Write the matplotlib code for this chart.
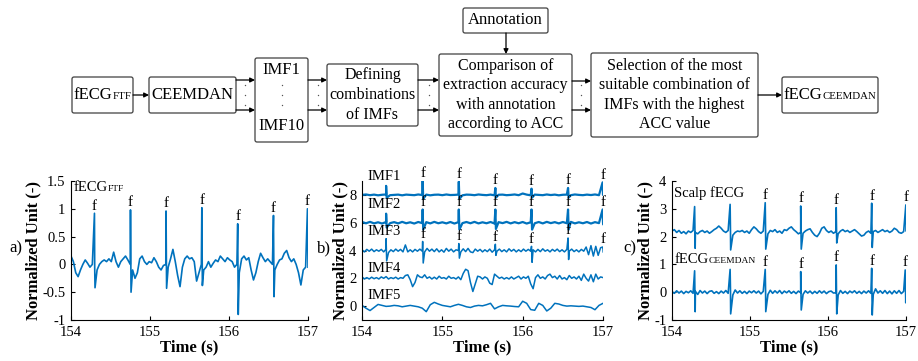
import numpy as np
import matplotlib
matplotlib.use("Agg")
import matplotlib.pyplot as plt
from matplotlib.patches import FancyBboxPatch
from matplotlib.offsetbox import TextArea, HPacker, AnnotationBbox

plt.rcParams["font.family"] = ["Liberation Serif", "DejaVu Serif"]
plt.rcParams["axes.unicode_minus"] = False

BLUE = "#0072BD"
T0 = 154.0

# ---------------- data ----------------
# spikes: (time, peak, trough, has "f" label)

# a) fECG FTF, samples every 0.03 s
ftf_step = 0.03
ftf_vals = [0.15, 0.05, -0.15, -0.22, -0.10, 0.00, 0.08, 0.02, -0.05, 0.00,
            -0.05, -0.10, 0.00, 0.05, 0.08, 0.05, 0.10, 0.05, 0.22, 0.05,
            -0.05, 0.05, 0.10, 0.15, 0.08, 0.00, -0.10, -0.25, -0.15, 0.10,
            0.15, 0.05, 0.00, 0.05, 0.03, 0.12, 0.05, -0.05, -0.10, -0.02,
            0.00, -0.05, 0.10, 0.27, 0.05, -0.20, -0.40, -0.05, 0.10, 0.15,
            0.10, 0.12, 0.05, -0.30, -0.15, 0.00, -0.10, -0.05, 0.05, -0.05,
            0.02, 0.08, 0.05, 0.15, 0.10, 0.05, 0.12, 0.08, 0.05, -0.05,
            0.00, -0.15, 0.10, 0.15, 0.08, 0.12, -0.10, -0.28, -0.15, 0.05,
            0.20, 0.12, 0.05, 0.10, 0.05, 0.00, -0.10, 0.00, 0.08, 0.10,
            0.20, 0.25, 0.12, 0.05, 0.10, 0.00, -0.15, -0.37, -0.10, -0.05,
            -0.05]
ftf_spikes = [(154.297, 0.92, -0.42, 1), (154.753, 0.98, -0.50, 1),
              (155.203, 0.96, -0.43, 1), (155.656, 1.02, -0.38, 1),
              (156.110, 0.73, -0.90, 1), (156.563, 0.88, -0.58, 1),
              (156.993, 1.00, -0.05, 1)]

# b) IMFs, values relative to their offsets
imf_names = ["IMF1", "IMF2", "IMF3", "IMF4", "IMF5"]
imf_offsets = [8, 6, 4, 2, 0]
imf_label_y = [9.35, 7.3, 5.37, 2.73, 0.79]
imf_steps = [0.05, 0.05, 0.03, 0.03, 0.05]
imf1_vals = [0.00, 0.03, -0.02, 0.02, -0.03, 0.01, 0.03, -0.02, 0.00, 0.02,
             -0.03, 0.02, 0.00, -0.02, 0.03, -0.01, 0.02, -0.03, 0.01, 0.02,
             -0.02, 0.03, -0.01, 0.00, 0.02, -0.03, 0.02, 0.01, -0.02, 0.03,
             0.00, -0.02, 0.02, -0.03, 0.01, 0.02, -0.02, 0.00, 0.03, -0.02,
             0.10, 0.02, -0.03, 0.02, 0.00, -0.02, 0.03, -0.01, 0.02, -0.03,
             0.01, 0.02, -0.02, 0.03, 0.00, -0.02, 0.02, -0.01, 0.03, -0.02,
             0.00]
imf2_vals = [0.05, -0.04, 0.06, -0.05, 0.03, -0.06, 0.05, -0.03, 0.04, -0.05,
             0.06, -0.04, 0.03, -0.06, 0.05, -0.03, 0.04, -0.05, 0.06, -0.04,
             0.03, -0.05, 0.05, -0.06, 0.04, -0.03, 0.05, -0.04, 0.06, -0.05,
             0.03, -0.04, 0.05, -0.06, 0.04, -0.03, 0.06, -0.05, 0.04, -0.04,
             0.05, -0.06, 0.03, -0.04, 0.05, -0.05, 0.06, -0.03, 0.04, -0.05,
             0.05, -0.04, 0.06, -0.05, 0.03, -0.04, 0.05, -0.06, 0.04, -0.03,
             0.02]
imf3_vals = [0.05, -0.10, 0.08, -0.05, 0.10, -0.08, 0.05, -0.05, 0.08, -0.10,
             0.10, -0.15, 0.05, -0.08, 0.10, -0.05, 0.08, -0.10, 0.40, -0.10,
             0.05, -0.10, 0.08, -0.05, 0.10, -0.05, -0.10, 0.15, -0.05, 0.10,
             -0.08, 0.12, -0.10, 0.05, -0.12, 0.15, -0.05, 0.10, -0.10, 0.05,
             0.00, -0.10, 0.12, -0.08, 0.15, -0.10, -0.15, 0.10, -0.05, 0.08,
             -0.10, 0.05, -0.08, 0.10, -0.12, 0.05, -0.05, 0.10, -0.08, 0.05,
             -0.10, 0.12, -0.05, 0.08, -0.10, 0.05, -0.08, 0.10, -0.05, 0.08,
             -0.05, 0.05, -0.10, 0.08, -0.08, 0.12, -0.05, 0.05, -0.10, 0.08,
             -0.05, 0.10, -0.08, 0.05, -0.10, 0.08, -0.05, 0.10, -0.08, 0.05,
             -0.10, 0.08, -0.05, 0.25, -0.30, 0.35, -0.40, 0.30, -0.35, 0.20,
             0.10]
imf4_vals = [0.10, -0.05, 0.05, -0.05, 0.08, -0.03, 0.05, -0.05, 0.10, 0.00,
             0.12, -0.05, 0.05, -0.02, 0.08, -0.05, 0.05, 0.00, 0.20, 0.25,
             -0.10, -0.60, -0.30, 0.25, 0.10, 0.05, 0.25, 0.00, 0.10, -0.05,
             0.08, -0.05, 0.15, 0.00, 0.05, -0.05, 0.15, 0.00, 0.05, -0.05,
             0.10, -0.10, 0.35, 0.65, 0.55, -0.30, -0.95, -0.40, 0.15, 0.10,
             -0.05, 0.10, 0.00, -0.35, -0.45, 0.30, 0.15, 0.00, 0.08, -0.05,
             0.05, -0.05, 0.10, -0.05, 0.05, 0.15, -0.05, 0.10, 0.00, 0.15,
             -0.40, -0.75, 0.05, 0.25, 0.00, 0.10, -0.05, 0.20, 0.30, 0.05,
             0.15, -0.05, 0.20, -0.05, 0.05, -0.10, 0.20, 0.00, 0.10, -0.05,
             0.15, -0.15, 0.30, 0.00, -0.20, 0.25, -0.25, 0.30, -0.05, 0.10,
             0.05]
imf5_vals = [0.05, -0.15, -0.32, -0.10, 0.12, 0.05, -0.02, 0.00, 0.05, 0.02,
             -0.05, 0.00, 0.05, 0.00, -0.05, -0.15, -0.40, 0.10, 0.27, 0.15,
             0.05, 0.00, -0.05, 0.05, 0.13, 0.05, -0.05, -0.10, 0.00, 0.05,
             0.02, 0.10, 0.20, -0.20, -0.05, 0.05, 0.02, 0.00, -0.03, -0.05,
             0.35, 0.20, -0.25, -0.30, 0.20, 0.05, -0.35, -0.15, 0.20, 0.15,
             0.05, 0.00, 0.02, 0.00, -0.02, 0.00, -0.05, -0.10, -0.26, 0.05,
             0.20]
imf1_spikes = [(154.300, 0.65, -0.20, 0), (154.755, 1.05, -0.30, 1),
               (155.205, 0.95, -0.30, 1), (155.660, 0.50, -0.20, 1),
               (156.110, 0.45, -0.20, 1), (156.565, 0.50, -0.20, 1),
               (156.995, 0.90, 0.00, 1)]
imf2_spikes = [(154.300, 0.65, -0.35, 0), (154.755, 0.95, -0.50, 1),
               (155.205, 0.95, -0.50, 1), (155.660, 0.95, -0.45, 1),
               (156.110, 0.95, -0.50, 1), (156.565, 0.95, -0.50, 1),
               (156.995, 0.95, -0.10, 1)]
imf3_spikes = [(154.300, 0.85, -0.75, 0), (154.755, 0.65, -0.90, 1),
               (155.205, 0.50, -0.55, 1), (155.660, 0.45, -0.35, 1),
               (156.110, 0.30, -0.85, 1), (156.565, 0.90, -0.65, 1),
               (156.995, 0.25, -0.10, 1)]
imf_vals = [imf1_vals, imf2_vals, imf3_vals, imf4_vals, imf5_vals]
imf_spikes = [imf1_spikes, imf2_spikes, imf3_spikes, [], []]

# c) scalp fECG and fECG CEEMDAN, samples every 0.03 s
c_step = 0.03
scalp_vals = [2.20, 2.25, 2.15, 2.22, 2.12, 2.18, 2.10, 2.20, 2.15, 2.22,
              2.15, 2.10, 2.18, 2.22, 2.15, 2.20, 2.12, 2.18, 2.25, 2.30,
              2.38, 2.30, 2.20, 2.15, 2.22, 2.12, 2.05, 2.15, 2.20, 2.18,
              2.22, 2.15, 2.20, 2.12, 2.25, 2.35, 2.28, 2.18, 2.12, 2.20,
              2.15, 2.10, 2.22, 2.18, 2.25, 2.15, 2.20, 2.12, 2.25, 2.22,
              2.30, 2.35, 2.25, 2.18, 2.10, 2.15, 2.12, 2.20, 2.25, 2.28,
              2.15, 2.05, 2.00, 2.12, 2.30, 2.35, 2.22, 2.15, 2.20, 2.12,
              2.18, 2.10, 2.20, 2.25, 2.18, 2.22, 2.15, 2.20, 2.25, 2.18,
              2.10, 2.02, 2.05, 2.15, 2.20, 2.12, 2.18, 2.22, 2.15, 2.20,
              2.25, 2.18, 2.22, 2.15, 2.20, 2.30, 2.25, 2.15, 2.12, 2.18,
              2.20]
scalp_spikes = [(154.290, 3.08, 1.58, 0), (154.745, 3.16, 1.52, 0),
                (155.195, 3.22, 1.55, 1), (155.650, 3.10, 1.55, 1),
                (156.105, 3.04, 1.77, 1), (156.560, 3.20, 1.61, 1),
                (156.998, 3.14, 2.20, 1)]
ceemdan_vals = [0.02, -0.04, 0.05, -0.03, 0.04, -0.05, 0.03, -0.02, 0.05, -0.04,
                0.03, -0.08, 0.06, -0.03, 0.04, -0.05, 0.03, 0.05, -0.04, 0.02,
                -0.05, 0.04, -0.03, 0.06, -0.04, 0.02, -0.10, 0.08, -0.03, 0.05,
                -0.04, 0.03, -0.05, 0.04, -0.02, 0.05, -0.03, 0.04, -0.06, 0.03,
                0.00, -0.08, 0.07, -0.04, 0.05, -0.03, 0.06, -0.05, 0.04, -0.02,
                0.05, -0.04, 0.03, -0.05, 0.04, -0.02, -0.08, 0.05, -0.03, 0.04,
                -0.05, 0.03, -0.04, 0.05, -0.03, 0.04, -0.05, 0.02, 0.04, -0.03,
                -0.02, -0.10, 0.06, -0.04, 0.03, -0.05, 0.04, -0.02, 0.05, -0.04,
                0.03, -0.05, 0.04, -0.03, 0.05, -0.04, -0.08, 0.12, -0.03, 0.05,
                -0.04, 0.06, -0.05, 0.04, -0.06, 0.05, -0.04, 0.06, -0.05, 0.03,
                0.00]
ceemdan_spikes = [(154.290, 0.77, -0.70, 0), (154.745, 0.82, -0.78, 0),
                  (155.195, 0.82, -0.70, 1), (155.650, 0.74, -0.64, 1),
                  (156.105, 0.98, -0.78, 1), (156.560, 0.86, -0.82, 1),
                  (156.990, 0.80, -0.38, 1)]


def build(vals, step, spikes, offset=0.0):
    t = T0 + step * np.arange(len(vals))
    st = [s[0] for s in spikes] + [s[0] + 0.007 for s in spikes]
    sv = [s[1] for s in spikes] + [s[2] for s in spikes]
    tt = np.r_[t, st]
    vv = np.r_[np.asarray(vals, float), sv]
    o = np.argsort(tt, kind="stable")
    return tt[o], vv[o] + offset


def mark_f(ax, spikes, offset=0.0):
    for ts, pk, tr, lab in spikes:
        if lab:
            ax.annotate("f", (ts, pk + offset), xytext=(0, 0.5),
                        textcoords="offset points", ha="center", va="bottom",
                        fontsize=11, annotation_clip=False)


def sc_text(ax, x, y, big, small, size, align=(0.5, 0.5)):
    ta = TextArea(big, textprops=dict(fontsize=size))
    tb = TextArea(small, textprops=dict(fontsize=size * 0.65))
    pk = HPacker(children=[ta, tb], align="baseline", pad=0, sep=0)
    ab = AnnotationBbox(pk, (x, y), box_alignment=align, frameon=False,
                        pad=0, annotation_clip=False)
    ax.add_artist(ab)


def style(ax, ylim, yticks, ylabels, ylab_x):
    ax.set_xlim(154, 157)
    ax.set_ylim(*ylim)
    ax.set_xticks([154, 155, 156, 157])
    ax.set_yticks(yticks)
    ax.set_yticklabels(ylabels)
    for s in ["top", "right"]:
        ax.spines[s].set_visible(False)
    ax.tick_params(direction="in", length=3, labelsize=10.5, pad=4)
    ax.set_xlabel("Time (s)", fontweight="bold", fontsize=12)
    ax.set_ylabel("Normalized Unit (-)", fontweight="bold", fontsize=12)
    ax.xaxis.set_label_coords(0.5, -0.14)
    ax.yaxis.set_label_coords(ylab_x, 0.5)


fig = plt.figure(figsize=(9.18, 3.61), dpi=100)

# ---------------- flowchart (pixel coordinates) ----------------
axf = fig.add_axes([0, 0, 1, 1])
axf.set_xlim(0, 918)
axf.set_ylim(361, 0)
axf.axis("off")

boxes = [(72, 77, 133, 113), (149, 77, 236, 113), (255, 58, 308, 142),
         (327, 64, 418, 126), (439, 54, 572, 136), (463, 8, 548, 33),
         (591, 53, 758, 137), (782, 77, 878, 113)]
for x0, y0, x1, y1 in boxes:
    axf.add_patch(FancyBboxPatch((x0, y0), x1 - x0, y1 - y0,
                                 boxstyle="round,pad=0,rounding_size=2",
                                 fc="white", ec="#404040", lw=0.9))

fs = 12
fm = 11.5
sc_text(axf, 102.5, 95, "fECG", "FTF", fs)
axf.text(192.5, 95, "CEEMDAN", ha="center", va="center", fontsize=fs)
axf.text(281.5, 70, "IMF1", ha="center", va="center", fontsize=fs)
axf.text(281.5, 126, "IMF10", ha="center", va="center", fontsize=fs)
axf.text(372.5, 95, "Defining\ncombinations\nof IMFs", ha="center",
         va="center", fontsize=fm, linespacing=1.3)
axf.text(505.5, 95, "Comparison of\nextraction accuracy\nwith annotation\n"
         "according to ACC", ha="center", va="center", fontsize=fm,
         linespacing=1.3)
axf.text(505.5, 20.5, "Annotation", ha="center", va="center", fontsize=fs)
axf.text(674.5, 95, "Selection of the most\nsuitable combination of\n"
         "IMFs with the highest\nACC value", ha="center", va="center",
         fontsize=fm, linespacing=1.3)
sc_text(axf, 830, 95, "fECG", "CEEMDAN", fs)

arrows = [((133, 95), (149, 95)),
          ((236, 80), (255, 80)), ((236, 110), (255, 110)),
          ((308, 80), (327, 80)), ((308, 110), (327, 110)),
          ((418, 80), (439, 80)), ((418, 110), (439, 110)),
          ((572, 81), (591, 81)), ((572, 110), (591, 110)),
          ((758, 95), (782, 95)), ((506, 33), (506, 54))]
for a, b in arrows:
    axf.annotate("", xy=b, xytext=a,
                 arrowprops=dict(arrowstyle="-|>", color="black", lw=0.9,
                                 mutation_scale=7, shrinkA=0, shrinkB=0))
for xd in [245, 317.5, 428.5, 581, 281.5]:
    axf.plot([xd] * 3, [85, 95, 105], ls="none", marker="o", ms=1.0,
             mew=0, color="#555555")

# ---------------- a) ----------------
axa = fig.add_axes([71 / 918, 41 / 361, 237 / 918, 139 / 361])
t, v = build(ftf_vals, ftf_step, ftf_spikes)
axa.plot(t, v, color=BLUE, lw=1.2)
mark_f(axa, ftf_spikes)
style(axa, (-1, 1.5), [-1, -0.5, 0, 0.5, 1, 1.5],
      ["-1", "-0.5", "0", "0.5", "1", "1.5"], -0.125)
sc_text(axa, 154.03, 1.39, "fECG", "FTF", 10.5, align=(0, 0.5))

# ---------------- b) ----------------
axb = fig.add_axes([362 / 918, 41 / 361, 241 / 918, 139 / 361])
for name, off, ly, st, vals, sp in zip(imf_names, imf_offsets, imf_label_y,
                                       imf_steps, imf_vals, imf_spikes):
    t, v = build(vals, st, sp, off)
    axb.plot(t, v, color=BLUE, lw=1.6 if off >= 6 else 1.1)
    mark_f(axb, sp, off)
    axb.text(154.07, ly, name, ha="left", va="center", fontsize=10.5)
style(axb, (-1, 9), [0, 2, 4, 6, 8], ["0", "2", "4", "6", "8"], -0.058)

# ---------------- c) ----------------
axc = fig.add_axes([672 / 918, 41 / 361, 234 / 918, 139 / 361])
t, v = build(scalp_vals, c_step, scalp_spikes)
axc.plot(t, v, color=BLUE, lw=1.2)
mark_f(axc, scalp_spikes)
t, v = build(ceemdan_vals, c_step, ceemdan_spikes)
axc.plot(t, v, color=BLUE, lw=1.2)
mark_f(axc, ceemdan_spikes)
style(axc, (-1, 4), [-1, 0, 1, 2, 3, 4], ["-1", "0", "1", "2", "3", "4"],
      -0.08)
axc.text(154.03, 3.56, "Scalp fECG", ha="left", va="center", fontsize=10.5)
sc_text(axc, 154.03, 1.16, "fECG", "CEEMDAN", 10.5, align=(0, 0.5))

for lab, xp in [("a)", 16), ("b)", 324), ("c)", 630)]:
    fig.text(xp / 918, 1 - 248 / 361, lab, ha="center", va="center",
             fontsize=12)

fig.savefig("out.png", dpi=100)
